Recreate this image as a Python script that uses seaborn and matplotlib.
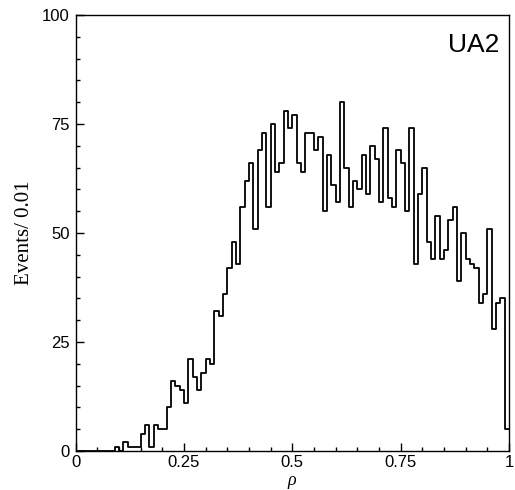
import numpy as np
import pandas as pd
import matplotlib
matplotlib.use("Agg")
import matplotlib.pyplot as plt
from matplotlib.ticker import MultipleLocator
import seaborn as sns

# bin edges: 100 bins of width 0.01 from 0 to 1
bin_left = [round(i * 0.01, 2) for i in range(100)]
counts = [
    0, 0, 0, 0, 0, 0, 0, 0, 0, 1,        # 0.00-0.09
    0, 2, 1, 1, 1, 4, 6, 1, 6, 5,        # 0.10-0.19
    5, 10, 16, 15, 14, 11, 21, 17, 14, 18,  # 0.20-0.29
    21, 20, 32, 31, 36, 42, 48, 43, 56, 62,  # 0.30-0.39
    66, 51, 69, 73, 56, 75, 64, 66, 78, 74,  # 0.40-0.49
    77, 66, 64, 73, 73, 69, 72, 55, 68, 61,  # 0.50-0.59
    57, 80, 65, 56, 62, 60, 68, 59, 70, 67,  # 0.60-0.69
    57, 74, 58, 56, 69, 66, 55, 74, 43, 59,  # 0.70-0.79
    65, 48, 44, 54, 44, 46, 53, 56, 39, 50,  # 0.80-0.89
    44, 43, 42, 34, 36, 51, 28, 34, 35, 5,   # 0.90-0.99
]
x_ticks = [0, 0.25, 0.5, 0.75, 1]
x_ticklabels = ["0", "0.25", "0.5", "0.75", "1"]
y_ticks = [0, 25, 50, 75, 100]
y_ticklabels = ["0", "25", "50", "75", "100"]

df = pd.DataFrame({"rho": [b + 0.005 for b in bin_left], "n": counts})

sns.set_style("ticks")
plt.rcParams["font.family"] = ["Liberation Sans", "DejaVu Sans"]

fig = plt.figure(figsize=(5.15, 4.90), dpi=100)
ax = fig.add_axes([75.5 / 515, 39 / 490, (509 - 75.5) / 515, (451 - 15) / 490])

sns.histplot(data=df, x="rho", weights="n", bins=100, binrange=(0, 1),
             element="step", fill=False, color="black", linewidth=1.3, ax=ax)

ax.set_xlim(0, 1)
ax.set_ylim(0, 100)
ax.set_xticks(x_ticks)
ax.set_xticklabels(x_ticklabels)
ax.set_yticks(y_ticks)
ax.set_yticklabels(y_ticklabels)
ax.xaxis.set_minor_locator(MultipleLocator(0.05))
ax.yaxis.set_minor_locator(MultipleLocator(5))
ax.tick_params(which="both", direction="in", top=False, right=False,
               labelsize=12, colors="black", width=1.0)
ax.tick_params(which="major", length=6, pad=4)
ax.tick_params(axis="x", which="major", pad=3)
ax.tick_params(which="minor", length=3)
for s in ax.spines.values():
    s.set_visible(True)
    s.set_color("black")
    s.set_linewidth(1.0)

ax.set_xlabel("ρ", fontsize=13, fontstyle="italic", color="black",
              family=["Liberation Serif", "DejaVu Serif"], labelpad=1)
ax.set_ylabel("Events/ 0.01", fontsize=15, color="black",
              family=["Liberation Serif", "DejaVu Serif"], labelpad=6)
ax.text(0.977, 0.931, "UA2", transform=ax.transAxes, ha="right", va="center",
        fontsize=19, color="black")

fig.savefig("out.png", dpi=100)
